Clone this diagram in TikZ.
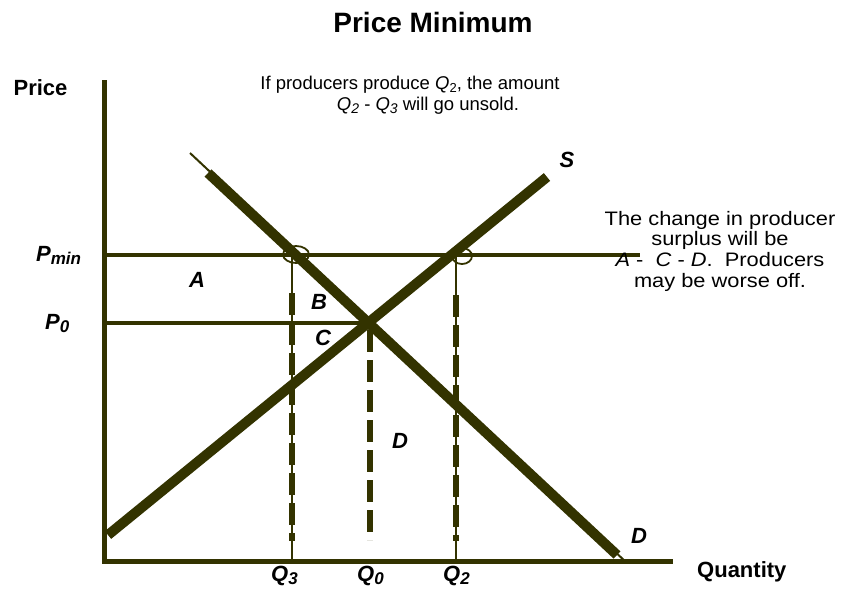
\documentclass[tikz,border=0pt]{standalone}
\usepackage{fontspec}
\setmainfont{Liberation Sans}
\newfontfamily\widenote[FakeStretch=1.12]{Liberation Sans}
\definecolor{linecol}{RGB}{51,51,0}
\newcommand{\lowsub}[2][15]{\raisebox{-0.18em}{\fontsize{#1}{#1}\selectfont #2}}
\tikzset{
  axisline/.style={draw=linecol, line width=5pt, line join=miter},
  priceline/.style={draw=linecol, line width=4pt},
  curve/.style={draw=linecol, line width=10pt},
  thincurve/.style={draw=linecol, line width=2pt},
  thinguide/.style={draw=linecol, line width=2pt},
  thickdash/.style={draw=linecol, line width=5.5pt, dash pattern=on 22pt off 8pt},
  ring/.style={draw=linecol, line width=1.8pt},
  lbl/.style={inner sep=0pt, anchor=base, font=\fontsize{22}{24}\selectfont\bfseries\itshape},
  axlbl/.style={inner sep=0pt, anchor=base, font=\fontsize{22}{24}\selectfont\bfseries},
  note/.style={inner sep=0pt, anchor=base, font=\fontsize{18.5}{20}\selectfont},
  rnote/.style={inner sep=0pt, anchor=north, align=center, font=\widenote\fontsize{19.5}{20.6}\selectfont},
}
\begin{document}
\begin{tikzpicture}[x=1pt,y=-1pt]
\useasboundingbox (0,0) rectangle (841,590);
% key points
\coordinate (ytop) at (104,80);
\coordinate (orig) at (104,561);
\coordinate (xend) at (673,561);
\coordinate (pminL) at (104,255);
\coordinate (pminR) at (640,255);
\coordinate (p0L) at (104,323);
\coordinate (E) at (370,323);
\coordinate (sL) at (108,535);
\coordinate (sR) at (547,177);
\coordinate (dT) at (190,153);
\coordinate (dA) at (208,173);
\coordinate (dB) at (617,555);
\coordinate (dE) at (627,563);
\coordinate (q3top) at (292,255);
\coordinate (q3a) at (292,293);
\coordinate (q3b) at (292,541);
\coordinate (q3bot) at (292,561);
\coordinate (q2top) at (456,255);
\coordinate (q2a) at (456,295);
\coordinate (q2b) at (456,541);
\coordinate (q2bot) at (456,561);
\coordinate (q0a) at (370,330);
\coordinate (q0b) at (370,540);
\coordinate (ring3) at (296,254.5);
\coordinate (ring2) at (462,256);

% price lines
\draw[priceline] (pminL) -- (pminR);
\draw[priceline] (p0L) -- (E);
% guides
\draw[thinguide] (q3top) -- (q3bot);
\draw[thickdash] (q3a) -- (q3b);
\draw[thinguide] (q2top) -- (q2bot);
\draw[thickdash] (q2a) -- (q2b);
\draw[thickdash] (q0a) -- (q0b);
% axes
\draw[axisline] (ytop) -- (orig) -- (xend);
% curves
\draw[thincurve] (dT) -- (dE);
\draw[curve] (dA) -- (dB);
\draw[curve] (sL) -- (sR);
% rings
\draw[ring] (ring3) ellipse [x radius=13pt, y radius=8.5pt];
\draw[ring] (ring2) ellipse [x radius=10pt, y radius=8pt];

% texts
\node[inner sep=0pt, anchor=base, font=\fontsize{28}{30}\selectfont\bfseries] (title) at (433,32) {Price Minimum};
\node[axlbl] (price) at (40.5,95) {Price};
\node[axlbl, anchor=base west] (quantity) at (697,577) {Quantity};
\node[lbl, anchor=base west] (pmin) at (36,261) {P\lowsub[17]{min}};
\node[lbl, anchor=base west] (p0) at (45,329) {P\lowsub[17]{0}};
\node[lbl] (la) at (197,287) {A};
\node[lbl] (lb) at (319,309) {B};
\node[lbl] (lc) at (323,345) {C};
\node[lbl] (ld) at (400,448) {D};
\node[lbl] (ld2) at (639,543) {D};
\node[lbl] (ls) at (567,167) {S};
\node[lbl, anchor=base west] (q3) at (271,581) {Q\lowsub[17]{3}};
\node[lbl, anchor=base west] (q0) at (357,581) {Q\lowsub[17]{0}};
\node[lbl, anchor=base west] (q2) at (443,581) {Q\lowsub[17]{2}};
\node[note] (n1) at (410,89) {If producers produce \textit{Q}\lowsub[13]{2}, the amount};
\node[note] (n2) at (428,110) {\textit{Q}\lowsub[14]{\textit{2}} - \textit{Q}\lowsub[14]{\textit{3}} will go unsold.};
\node[rnote] (n3) at (720,211) {The change in producer\\surplus will be\\\textit{A} -\ \ \textit{C} - \textit{D}.\ \ Producers\\may be worse off.};
\end{tikzpicture}
\end{document}
